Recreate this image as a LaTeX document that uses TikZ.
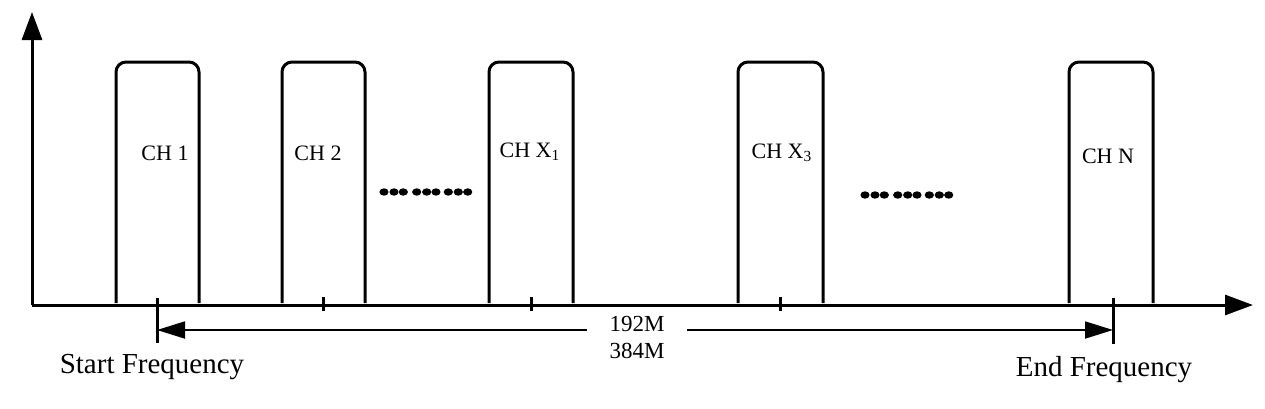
\documentclass[tikz,border=0pt]{standalone}
\usepackage{fontspec}
\setmainfont{Liberation Serif}
\usetikzlibrary{arrows.meta}

\begin{document}
\begin{tikzpicture}[x=0.5pt,y=-0.5pt,line join=round,
  axis/.style={line width=1.5pt,-{Triangle[length=14pt,width=10pt]}},
  pulse/.style={line width=1.5pt,rounded corners=5pt},
  marker/.style={line width=1.5pt},
  dimarr/.style={line width=0.9pt,-{Triangle[length=14pt,width=8.5pt]}},
  chlabel/.style={font=\fontsize{11}{13}\selectfont},
  freqlabel/.style={font=\fontsize{14.5}{17}\selectfont}]
  \useasboundingbox (0,0) rectangle (1265,408);

  % axes
  \coordinate (O) at (32,305);
  \coordinate (ytop) at (32,12);
  \coordinate (xend) at (1253,305);
  \draw[axis] (O) -- (ytop);
  \draw[axis] (O) -- (xend);

  % channels
  \foreach \l/\r in {116/199, 282/365, 489/573, 738/823, 1069/1153}
    \draw[pulse] (\l,303) |- ({(\l+\r)/2},62) -| (\r,303);

  \node[chlabel] (ch1) at (165,153) {CH 1};
  \node[chlabel] (ch2) at (318,153) {CH 2};
  \node[chlabel] (chx1) at (530,152) {CH X\textsubscript{1}};
  \node[chlabel] (chx3) at (782,153) {CH X\textsubscript{3}};
  \node[chlabel] (chn) at (1108,156) {CH N};

  % dots between channels
  \foreach \d in {0,10,19.3,32.7,42.7,52,64.3,74.3,83.7}{
    \fill (384+\d,192) ellipse (4.6 and 3.7);
    \fill (865+\d,195) ellipse (4.6 and 3.7);
  }

  % centre ticks
  \foreach \t in {323,531,780}
    \draw[marker] (\t,297) -- (\t,311);

  % start / end markers
  \coordinate (sm) at (157,330);
  \coordinate (em) at (1113,330);
  \draw[marker] (157,298) -- (157,343);
  \draw[marker] (1113,298) -- (1113,344);

  \node[chlabel,font=\fontsize{11.5}{13.5}\selectfont,align=center,inner xsep=11pt]
    (bw) at (637,337) {192M\\384M};
  \draw[dimarr] (bw.west |- sm) -- (sm);
  \draw[dimarr] (bw.east |- em) -- (em);

  \node[freqlabel] (start) at (152,367) {Start Frequency};
  \node[freqlabel] (end) at (1104,370) {End Frequency};
\end{tikzpicture}
\end{document}
